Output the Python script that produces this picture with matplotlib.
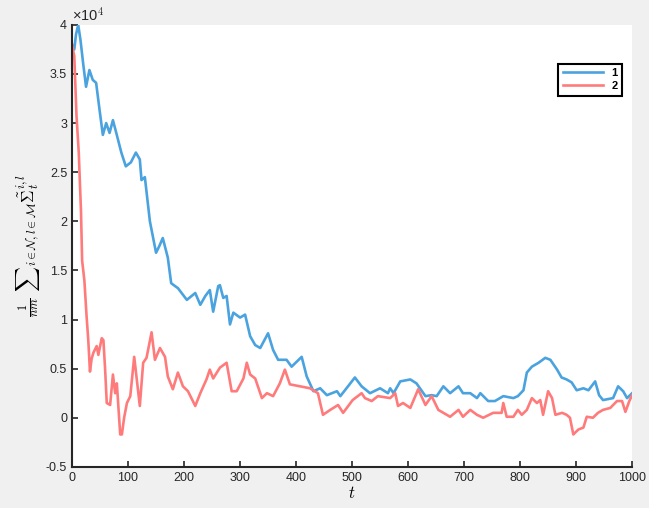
import matplotlib
matplotlib.use("Agg")
import matplotlib.pyplot as plt
from matplotlib.ticker import FuncFormatter

# values, y in units of 1e4
t_blue = [0, 4, 7, 11, 15, 20, 25, 31, 37, 43, 49, 55, 61, 67, 73, 79, 88, 96, 105, 114,
          121, 124, 130, 136, 139, 150, 156, 162, 171, 177, 184, 189, 205, 220, 229, 238,
          246, 252, 261, 264, 270, 276, 282, 288, 300, 309, 318, 327, 336, 350, 359, 368,
          383, 392, 410, 419, 431, 443, 455, 473, 479, 490, 505, 517, 532, 550, 564, 568,
          574, 586, 604, 615, 631, 642, 651, 663, 675, 690, 698, 711, 723, 729, 743, 755,
          770, 788, 796, 806, 812, 821, 833, 845, 854, 866, 874, 883, 892, 901, 913, 922,
          934, 941, 948, 966, 975, 984, 991, 1000]
v_blue = [3.80, 3.75, 3.90, 4.00, 3.85, 3.60, 3.37, 3.54, 3.44, 3.41, 3.14, 2.88, 3.00, 2.90,
          3.03, 2.90, 2.70, 2.56, 2.60, 2.70, 2.63, 2.42, 2.45, 2.15, 2.00, 1.68, 1.75, 1.83,
          1.63, 1.37, 1.34, 1.32, 1.20, 1.27, 1.15, 1.24, 1.30, 1.08, 1.34, 1.35, 1.22, 1.24,
          0.95, 1.07, 1.02, 1.05, 0.83, 0.74, 0.71, 0.86, 0.69, 0.59, 0.59, 0.52, 0.62, 0.42,
          0.27, 0.30, 0.23, 0.27, 0.22, 0.30, 0.41, 0.32, 0.25, 0.30, 0.25, 0.30, 0.25, 0.37,
          0.39, 0.35, 0.22, 0.23, 0.22, 0.32, 0.25, 0.32, 0.25, 0.25, 0.20, 0.25, 0.17, 0.17,
          0.22, 0.20, 0.22, 0.28, 0.46, 0.52, 0.56, 0.61, 0.59, 0.49, 0.41, 0.39, 0.36, 0.28,
          0.30, 0.28, 0.37, 0.23, 0.18, 0.20, 0.32, 0.27, 0.20, 0.25]

t_red = [0, 4, 8, 12, 16, 18, 22, 26, 29, 32, 35, 38, 44, 47, 53, 56, 59, 62, 68, 73, 77, 80,
         86, 89, 93, 98, 104, 111, 115, 121, 127, 133, 142, 148, 157, 166, 171, 180, 189, 198,
         207, 220, 229, 240, 246, 252, 264, 276, 285, 294, 306, 312, 318, 327, 339, 348, 359,
         371, 380, 389, 407, 425, 439, 448, 461, 475, 484, 501, 517, 523, 535, 546, 568, 577,
         582, 591, 604, 618, 631, 642, 654, 675, 690, 698, 711, 723, 734, 752, 767, 770, 776,
         788, 796, 803, 812, 821, 830, 836, 841, 850, 857, 863, 875, 883, 889, 895, 904, 913,
         919, 930, 939, 948, 961, 973, 982, 988, 995, 1000]
v_red = [3.80, 3.68, 3.07, 2.70, 2.10, 1.60, 1.40, 1.03, 0.79, 0.47, 0.60, 0.66, 0.73, 0.64,
         0.81, 0.79, 0.50, 0.15, 0.13, 0.44, 0.25, 0.35, -0.17, -0.17, 0.00, 0.15, 0.22, 0.62,
         0.42, 0.12, 0.56, 0.61, 0.87, 0.59, 0.71, 0.62, 0.42, 0.29, 0.46, 0.32, 0.27, 0.12,
         0.25, 0.39, 0.49, 0.40, 0.51, 0.56, 0.27, 0.27, 0.40, 0.56, 0.44, 0.40, 0.20, 0.25,
         0.22, 0.35, 0.49, 0.34, 0.32, 0.30, 0.25, 0.03, 0.08, 0.13, 0.05, 0.18, 0.25, 0.20,
         0.17, 0.22, 0.20, 0.25, 0.12, 0.15, 0.10, 0.29, 0.13, 0.22, 0.08, 0.01, 0.08, 0.01,
         0.08, 0.03, 0.00, 0.05, 0.05, 0.15, 0.01, 0.01, 0.08, 0.03, 0.08, 0.20, 0.15, 0.18,
         0.03, 0.27, 0.20, 0.03, 0.05, 0.03, 0.00, -0.17, -0.12, -0.10, 0.01, 0.00, 0.05, 0.08,
         0.10, 0.17, 0.17, 0.06, 0.17, 0.23]

x_ticks = list(range(0, 1001, 100))
y_ticks = [-0.5, 0, 0.5, 1, 1.5, 2, 2.5, 3, 3.5, 4]

plt.rcParams['mathtext.fontset'] = 'cm'
plt.rcParams['axes.unicode_minus'] = False
plt.rcParams['font.family'] = ['Liberation Sans', 'DejaVu Sans']

fig = plt.figure(figsize=(6.49, 5.08), dpi=100, facecolor='#f0f0f0')
ax = fig.add_axes([0.111, 0.081, 0.863, 0.870])

ax.plot(t_blue, v_blue, color='#4aa3df', lw=1.9, label='1')
ax.plot(t_red, v_red, color='#ff7b7b', lw=1.9, label='2')

ax.set_xlim(0, 1000)
ax.set_ylim(-0.5, 4)
ax.set_xticks(x_ticks)
ax.set_yticks(y_ticks)
ax.yaxis.set_major_formatter(FuncFormatter(lambda v, p: '%g' % v))
ax.tick_params(direction='in', length=4, width=1.2, labelsize=9, colors='#262626')
for s in ('top', 'right'):
    ax.spines[s].set_visible(False)
for s in ('left', 'bottom'):
    ax.spines[s].set_linewidth(1.5)
    ax.spines[s].set_color('#262626')

ax.text(0.0, 1.003, '×10$^{\\mathsf{4}}$', transform=ax.transAxes, fontsize=10.5,
        color='#262626', ha='left', va='bottom')

ax.set_xlabel(r'$t$', fontsize=12, labelpad=1)
ax.set_ylabel(r'$\frac{1}{nm}\ {\sum}_{i\in\mathcal{N},l\in\mathcal{M}}\tilde{\Sigma}_t^{i,l}$',
              fontsize=12.5, labelpad=2)

leg = ax.legend(loc='upper right', bbox_to_anchor=(0.992, 0.925), fancybox=False,
                edgecolor='black', framealpha=1, handlelength=3.6,
                borderpad=0.4, labelspacing=0.3, prop={'weight': 'bold', 'size': 8})
leg.get_frame().set_linewidth(1.5)

fig.savefig('out.png', dpi=100, facecolor=fig.get_facecolor())
